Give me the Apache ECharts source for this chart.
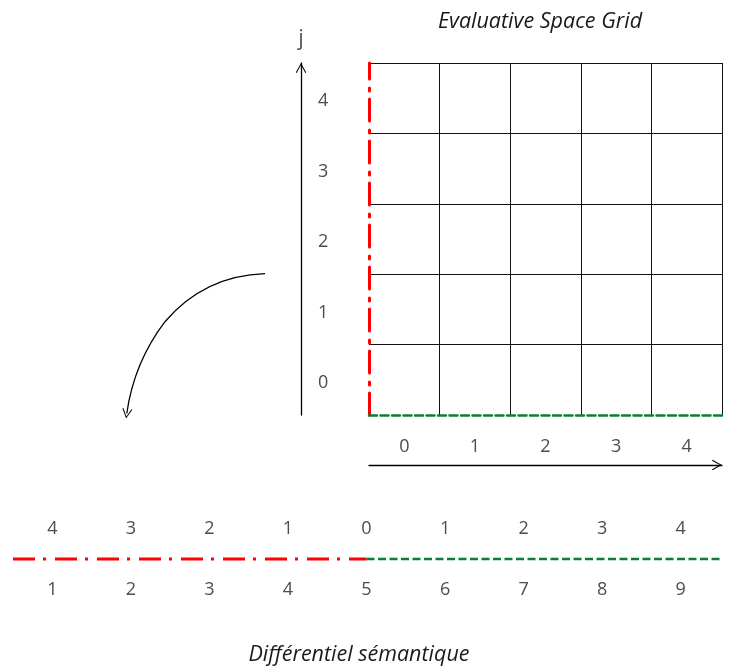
<!DOCTYPE html>
<html>
<head>
<meta charset="utf-8">
<title>Evaluative Space Grid</title>
<script src="https://cdn.jsdelivr.net/npm/echarts@6/dist/echarts.min.js"></script>
<style>
  html, body { margin: 0; padding: 0; background: #fff; }
  #chart { width: 737px; height: 668px; }
</style>
</head>
<body>
<div id="chart"></div>
<script>
  // evaluative space grid: cells i (horizontal) and j (vertical)
  let gridI = ['0', '1', '2', '3', '4']
  let gridJ = ['0', '1', '2', '3', '4']
  let gridLimits = [0, 5]
  // semantic differential scale and distance from the neutral point
  let scalePoints = ['1', '2', '3', '4', '5', '6', '7', '8', '9']
  let scaleDistance = ['4', '3', '2', '1', '0', '1', '2', '3', '4']
  let negativeSpan = [[0.5, 0], [5, 0]]
  let positiveSpan = [[5, 0], [9.5, 0]]
  let foldUpper = [[-1.473, 2.007], [-2.89, 1.325]]
  let foldLower = [[-2.89, 1.325], [-3.431, 0.021]]

  let font = 'Open Sans'
  let labelColor = '#4d4d4d'
  let red = '#ff0000'
  let green = '#0b7d3a'
  let dashDot = [22, 8, 3, 9]
  let dashed = [8, 3.5]
  let chevron = 'path://M0,18 L10,0 L20,18 L18.2,19 L10,4 L1.8,19 Z'

  let labelStyle = {fontFamily: font, fontSize: 18, color: labelColor}
  let titleStyle = {fontFamily: font, fontStyle: 'italic', fontWeight: 'normal', fontSize: 21.5, color: '#1a1a1a'}
  let arrowLine = {
    show: true,
    onZero: false,
    symbol: ['none', chevron],
    symbolSize: [11, 10],
    symbolOffset: [0, -5],
    lineStyle: {color: '#000', width: 1.3}
  }
  let cellLines = {show: true, showMinLine: false, lineStyle: {color: '#111', width: 1}}

  let myChart = echarts.init(document.getElementById('chart'))
  let option = {
    animation: false,
    title: [
      {text: 'Evaluative Space Grid', left: 535, top: 6, textAlign: 'center', textStyle: titleStyle},
      {text: 'Différentiel sémantique', left: 354, top: 639, textAlign: 'center', textStyle: titleStyle}
    ],
    grid: [
      {left: 369, top: 63, width: 353, height: 352},
      {left: 13, top: 558, width: 707, height: 2}
    ],
    xAxis: [
      {
        gridIndex: 0, type: 'value', position: 'bottom',
        min: gridLimits[0], max: gridLimits[1], interval: 1,
        axisLine: {show: true, onZero: false, lineStyle: {color: green, width: 2.5, type: dashed}},
        axisTick: {show: false}, axisLabel: {show: false},
        splitLine: cellLines
      },
      {
        gridIndex: 0, type: 'category', position: 'bottom', offset: 50, data: gridI,
        axisLine: arrowLine, axisTick: {show: false},
        axisLabel: Object.assign({inside: true, margin: 9}, labelStyle),
        splitLine: {show: false}
      },
      {
        gridIndex: 1, type: 'category', position: 'bottom', data: scalePoints,
        axisLine: {show: false, onZero: false}, axisTick: {show: false},
        axisLabel: Object.assign({margin: 21}, labelStyle)
      },
      {
        gridIndex: 1, type: 'category', position: 'bottom', data: scaleDistance,
        axisLine: {show: false, onZero: false}, axisTick: {show: false},
        axisLabel: Object.assign({inside: true, margin: 22}, labelStyle)
      },
      {gridIndex: 1, type: 'value', position: 'bottom', min: 0.5, max: 9.5, show: false}
    ],
    yAxis: [
      {
        gridIndex: 0, type: 'value', position: 'left',
        min: gridLimits[0], max: gridLimits[1], interval: 1,
        axisLine: {show: true, onZero: false, lineStyle: {color: red, width: 3, type: dashDot}},
        axisTick: {show: false}, axisLabel: {show: false},
        splitLine: cellLines
      },
      {
        gridIndex: 0, type: 'category', position: 'left', offset: 68, data: gridJ,
        name: 'j', nameLocation: 'end', nameGap: 13,
        nameTextStyle: {fontFamily: font, fontSize: 22, color: '#555'},
        axisLine: arrowLine, axisTick: {show: false},
        axisLabel: Object.assign({inside: true, margin: 17, verticalAlign: 'top', lineHeight: 6}, labelStyle),
        splitLine: {show: false}
      },
      {gridIndex: 1, type: 'value', min: -1, max: 1, show: false}
    ],
    series: [
      {
        type: 'lines', coordinateSystem: 'cartesian2d', xAxisIndex: 0, yAxisIndex: 0,
        clip: false, silent: true, symbol: 'none',
        lineStyle: {color: '#000', width: 1.3, opacity: 1, curveness: -0.22},
        data: [{coords: foldUpper}]
      },
      {
        type: 'lines', coordinateSystem: 'cartesian2d', xAxisIndex: 0, yAxisIndex: 0,
        clip: false, silent: true,
        symbol: ['none', chevron], symbolSize: 10,
        lineStyle: {color: '#000', width: 1.3, opacity: 1, curveness: -0.13},
        data: [{coords: foldLower}]
      },
      {
        type: 'line', xAxisIndex: 4, yAxisIndex: 2, data: negativeSpan,
        symbol: 'none', silent: true,
        lineStyle: {color: red, width: 3, type: dashDot}
      },
      {
        type: 'line', xAxisIndex: 4, yAxisIndex: 2, data: positiveSpan,
        symbol: 'none', silent: true,
        lineStyle: {color: green, width: 2.5, type: dashed}
      }
    ]
  }
  myChart.setOption(option)
</script>
</body>
</html>
